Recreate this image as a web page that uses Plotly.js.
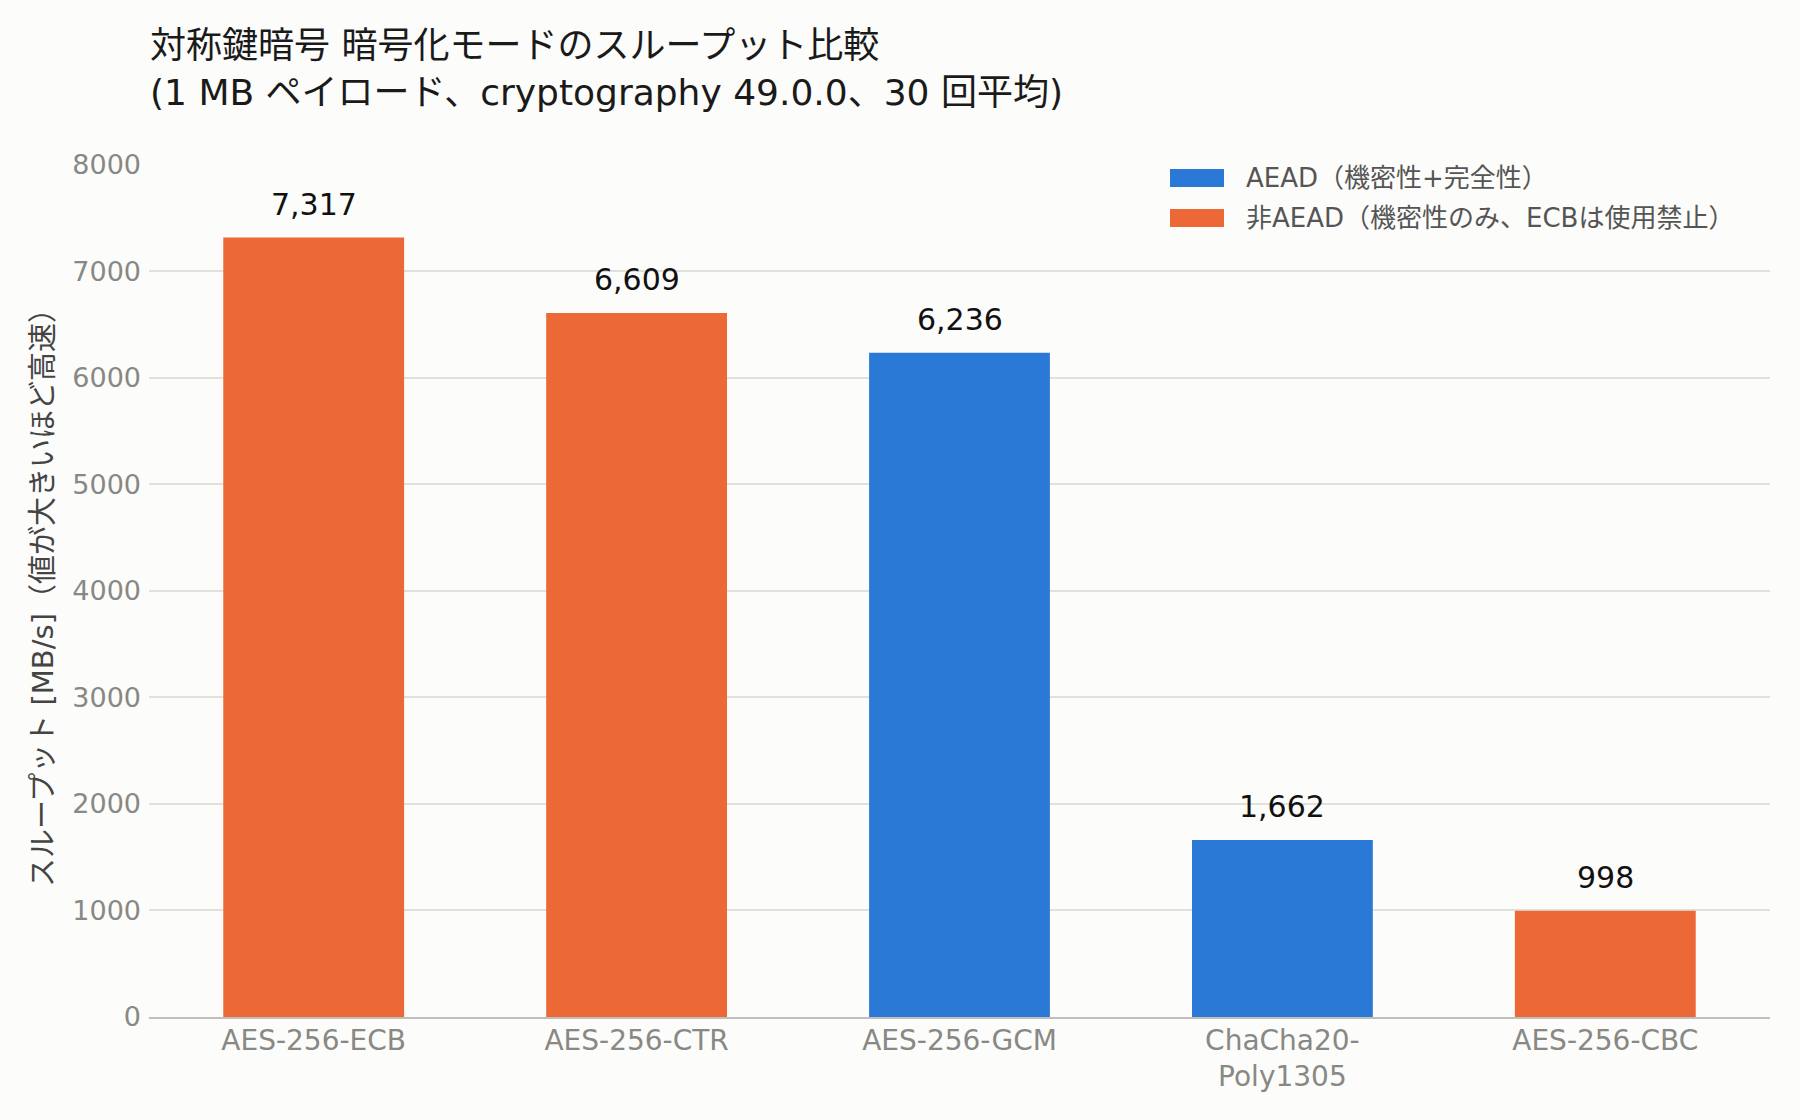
<!DOCTYPE html>
<html>
<head>
<meta charset="utf-8">
<script src="https://cdn.plot.ly/plotly-3.0.1.min.js"></script>
<style>
  html, body { margin: 0; padding: 0; background: #fcfcfa; }
  #chart { width: 1800px; height: 1120px; }
</style>
</head>
<body>
<div id="chart"></div>
<script>
// Throughput of symmetric cipher modes (MB/s), 1 MB payload, mean of 30 runs
const modes = ['AES-256-ECB', 'AES-256-CTR', 'AES-256-GCM', 'ChaCha20-Poly1305', 'AES-256-CBC'];
const modeLabels = ['AES-256-ECB', 'AES-256-CTR', 'AES-256-GCM', 'ChaCha20-<br>Poly1305', 'AES-256-CBC'];
const throughput = [7317, 6609, 6236, 1662, 998];
const isAead = [false, false, true, true, false];

const aeadName = 'AEAD（機密性+完全性）';
const nonAeadName = '非AEAD（機密性のみ、ECBは使用禁止）';
const yTicks = [0, 1000, 2000, 3000, 4000, 5000, 6000, 7000, 8000];

const BLUE = '#2a79d6';
const ORANGE = '#ec6836';
const FONT = '"DejaVu Sans", "Noto Sans CJK JP", sans-serif';

const W = 1800, H = 1120;
const M = { l: 149, r: 30, t: 164, b: 103 };
const plotW = W - M.l - M.r, plotH = H - M.t - M.b;
const px2x = px => (px - M.l) / plotW;
const px2y = py => (H - M.b - py) / plotH;

const aeadX = [], aeadY = [], otherX = [], otherY = [];
modes.forEach((m, i) => {
  if (isAead[i]) { aeadX.push(m); aeadY.push(throughput[i]); }
  else { otherX.push(m); otherY.push(throughput[i]); }
});

const traces = [
  { type: 'bar', name: aeadName, x: aeadX, y: aeadY, marker: { color: BLUE }, showlegend: false, hoverinfo: 'x+y' },
  { type: 'bar', name: nonAeadName, x: otherX, y: otherY, marker: { color: ORANGE }, showlegend: false, hoverinfo: 'x+y' }
];

// value labels above each bar
const valueNotes = modes.map((m, i) => ({
  x: m, y: throughput[i], xref: 'x', yref: 'y',
  text: throughput[i].toLocaleString('en-US'),
  showarrow: false, yanchor: 'bottom', yshift: 14,
  font: { family: FONT, size: 30, color: '#111111' }
}));

// legend drawn as swatches + labels in the top-right corner
const legendItems = [
  { name: aeadName, color: BLUE, cy: 178 },
  { name: nonAeadName, color: ORANGE, cy: 218 }
];
const legendShapes = legendItems.map(it => ({
  type: 'rect', xref: 'paper', yref: 'paper', layer: 'above',
  x0: px2x(1170), x1: px2x(1224), y0: px2y(it.cy - 9), y1: px2y(it.cy + 9),
  fillcolor: it.color, line: { width: 0 }
}));
const legendNotes = legendItems.map(it => ({
  xref: 'paper', yref: 'paper', x: px2x(1244), y: px2y(it.cy),
  xanchor: 'left', yanchor: 'middle', showarrow: false, text: it.name,
  font: { family: FONT, size: 26, color: '#555555' }
}));

const layout = {
  width: W, height: H,
  margin: M,
  paper_bgcolor: '#fcfcfa',
  plot_bgcolor: '#fcfcfa',
  font: { family: FONT, size: 26, color: '#444444' },
  title: {
    text: '対称鍵暗号 暗号化モードのスループット比較<br>(1 MB ペイロード、cryptography 49.0.0、30 回平均)',
    x: 150 / W, xref: 'container', xanchor: 'left',
    y: 1 - 58 / H, yref: 'container', yanchor: 'top',
    font: { family: FONT, size: 36, color: '#1a1a1a' }
  },
  barmode: 'overlay',
  bargap: 0.44,
  xaxis: {
    type: 'category',
    categoryorder: 'array', categoryarray: modes,
    range: [-0.51, 4.51],
    tickvals: modes, ticktext: modeLabels,
    tickfont: { family: FONT, size: 28, color: '#888884' },
    ticklabelstandoff: -3,
    showgrid: false, zeroline: false,
    showline: true, linecolor: '#c0c0b8', linewidth: 2,
    ticks: ''
  },
  yaxis: {
    range: [0, 8008],
    tickvals: yTicks,
    tickfont: { family: FONT, size: 27, color: '#888884' },
    ticklabelstandoff: 7,
    gridcolor: '#e0e0dc', gridwidth: 2,
    zeroline: false, showline: false, ticks: '',
    title: {
      text: 'スループット [MB/s]（値が大きいほど高速）',
      font: { family: FONT, size: 29, color: '#444444' },
      standoff: 10
    }
  },
  shapes: legendShapes,
  annotations: valueNotes.concat(legendNotes)
};

Plotly.newPlot('chart', traces, layout, { displayModeBar: false, staticPlot: true });
</script>
</body>
</html>
